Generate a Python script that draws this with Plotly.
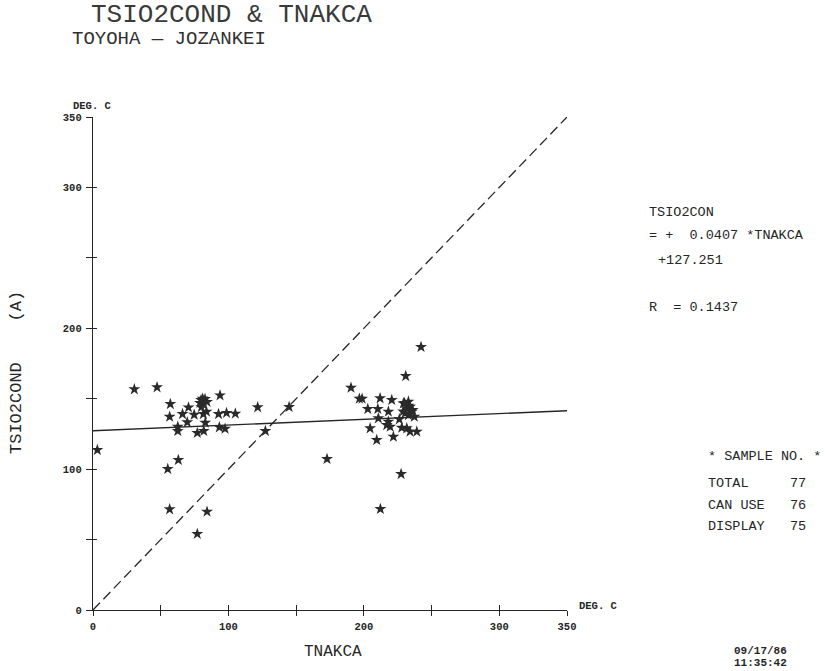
import plotly.graph_objects as go

# --- data -----------------------------------------------------------------
# TNAKCA (deg C) and TSIO2COND (deg C) for the displayed samples
tnakca = [
    30.5, 47.3, 57.1, 70.5, 79.8, 82.7, 81.2, 84.2, 79.0, 93.8, 121.6,
    56.6, 66.1, 74.7, 81.5, 83.8, 92.7, 98.6, 105.1, 69.6, 62.6, 82.9,
    93.3, 97.5, 62.6, 77.0, 81.8, 127.3, 3.2, 63.0, 55.2, 56.6, 84.2,
    77.0, 144.8, 81.0, 80.0,
    242.2, 230.9, 190.5, 196.7, 198.7, 212.0, 220.6, 229.2, 232.9, 234.1,
    231.7, 235.4, 230.4, 232.9, 202.9, 210.3, 218.1, 210.7, 218.1, 216.9,
    219.4, 226.2, 237.3, 204.6, 228.0, 231.7, 234.1, 239.1, 209.5, 221.8,
    227.5, 212.2, 172.8, 233.0, 236.0, 230.0, 229.0,
]
tsio2cond = [
    156.7, 158.1, 146.2, 143.8, 149.1, 149.8, 146.2, 147.7, 147.0, 152.4, 143.9,
    137.2, 139.1, 138.6, 139.1, 140.8, 139.1, 139.9, 139.4, 133.3, 130.1, 133.0,
    129.7, 128.7, 127.1, 125.7, 127.1, 127.1, 113.6, 106.5, 100.1, 71.5, 69.8,
    54.0, 144.1, 150.0, 144.0,
    186.7, 166.1, 157.8, 150.0, 150.0, 150.3, 149.1, 146.7, 147.9, 144.3,
    143.2, 140.8, 139.6, 138.4, 142.7, 142.7, 140.8, 136.1, 133.7, 131.3,
    130.1, 135.4, 137.2, 129.0, 129.4, 129.0, 126.6, 126.6, 120.7, 123.0,
    96.5, 71.7, 107.2, 145.0, 142.0, 147.0, 141.0,
]

# regression result
SLOPE = 0.0407
INTERCEPT = 127.251
R_VALUE = 0.1437

# sample counts
sample_labels = ["TOTAL", "CAN USE", "DISPLAY"]
sample_counts = [77, 76, 75]

# axis ticks
AXIS_MAX = 350
tick_vals = [0, 50, 100, 150, 200, 250, 300, 350]
tick_text = ["0", "", "100", "", "200", "", "300", "350"]

# --- layout geometry (pixels) --------------------------------------------
W, H = 825, 671
L, R, T, B = 93, 567, 117, 610
MONO = "Liberation Mono, DejaVu Sans Mono, monospace"
INK = "#262626"


def paper(xp, yp):
    return (xp - L) / (R - L), (B - yp) / (B - T)


line_x = [0, AXIS_MAX]
fit_y = [SLOPE * v + INTERCEPT for v in line_x]

fig = go.Figure()

# 1:1 reference line
fig.add_trace(go.Scatter(
    x=line_x, y=line_x, mode="lines", xaxis="x2", yaxis="y2",
    line=dict(color=INK, width=1.3, dash="10px,5px"),
    hoverinfo="skip", showlegend=False,
))
# regression line
fig.add_trace(go.Scatter(
    x=line_x, y=fit_y, mode="lines",
    line=dict(color=INK, width=1.4),
    hoverinfo="skip", showlegend=False,
))
# samples
fig.add_trace(go.Scatter(
    x=tnakca, y=tsio2cond, mode="markers",
    marker=dict(symbol="star", size=9, color="#2a2a2a", line=dict(width=0)),
    showlegend=False,
))

tickfont = dict(family=MONO, size=10.5, color=INK, weight="bold")
base_axis = dict(
    range=[0, AXIS_MAX], tickmode="array", tickvals=tick_vals,
    showgrid=False, zeroline=False, fixedrange=True,
    tickcolor=INK, tickwidth=1.3,
)

fig.update_layout(
    width=W, height=H,
    margin=dict(l=L, r=W - R, t=T, b=H - B, pad=0),
    paper_bgcolor="white", plot_bgcolor="white",
    showlegend=False,
    xaxis=dict(**base_axis, ticktext=tick_text, ticks="outside", ticklen=5,
               showline=True, linecolor=INK, linewidth=1.4,
               tickfont=tickfont, ticklabelstandoff=1),
    yaxis=dict(**base_axis, ticktext=tick_text, ticks="outside", ticklen=6,
               showline=True, linecolor=INK, linewidth=1.4,
               tickfont=tickfont, ticklabelstandoff=2),
    xaxis2=dict(**base_axis, overlaying="x", anchor="y2", side="bottom",
                ticks="inside", ticklen=5, showticklabels=False,
                showline=False),
    yaxis2=dict(**base_axis, overlaying="y", anchor="x2", side="left",
                ticks="inside", ticklen=4, showticklabels=False,
                showline=False),
)


def note(text, xp, yp, size, anchor="left", weight="normal", angle=0,
         color=INK):
    x, y = paper(xp, yp)
    fig.add_annotation(
        text=text, x=x, y=y, xref="paper", yref="paper",
        xanchor=anchor, yanchor="middle", showarrow=False, textangle=angle,
        font=dict(family=MONO, size=size, color=color, weight=weight),
    )


NB = "\u00a0"

# titles
note("TSIO2COND &amp; TNAKCA", 89, 15, 26, color="#3a3a3a")
note("TOYOHA — JOZANKEI", 70, 39, 19, color="#303030")
note("TNAKCA", 333, 652, 16, anchor="center")
note(f"TSIO2COND{NB * 4}(A)", 16, 373, 17, anchor="center", angle=-90)

# axis unit labels
note("DEG. C", 71, 106, 10.5, weight="bold")
note("DEG. C", 577, 606, 10.5, weight="bold")

# regression panel
note("TSIO2CON", 647, 212, 13.5)
note(f"={NB}+{NB * 2}{SLOPE:.4f}{NB}*TNAKCA", 647, 235, 13.5)
note(f"+{INTERCEPT:.3f}", 656, 260, 13.5)
note(f"R{NB * 2}={NB}{R_VALUE:.4f}", 647, 307, 13.5)

# sample panel
note(f"*{NB}SAMPLE{NB}NO.{NB}*", 706, 456, 13.5)
for i, (lab, cnt) in enumerate(zip(sample_labels, sample_counts)):
    yp = [483, 505, 526][i]
    note(lab.replace(" ", NB), 706, yp, 13.5)
    note(str(cnt), 788, yp, 13.5)

# date / time stamp
note("09/17/86", 732, 651, 11, weight="bold")
note("11:35:42", 732, 663, 11, weight="bold")

fig.write_html("out.html")
